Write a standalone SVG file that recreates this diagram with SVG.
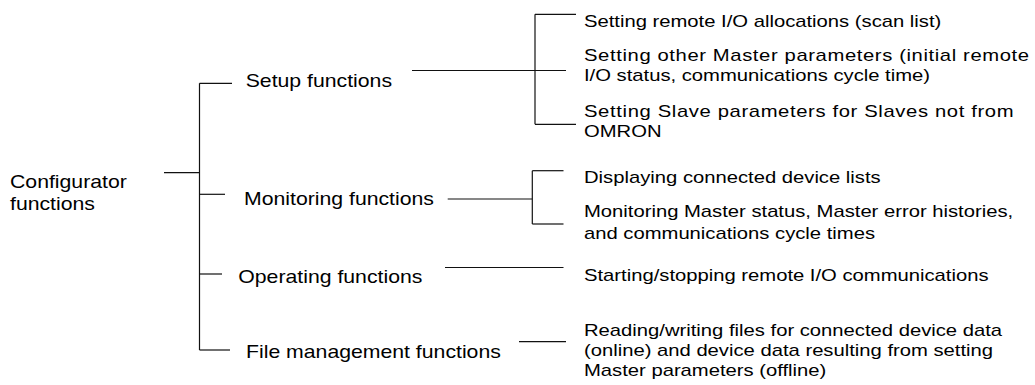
<svg xmlns="http://www.w3.org/2000/svg" width="1035" height="385" viewBox="0 0 1035 385">
<style>
text{font-family:"Liberation Sans",Arial,Helvetica,sans-serif;font-size:18px;fill:#000}
text.r{font-size:17px}
.c line{stroke:#111;stroke-width:1.2;fill:none}
</style>
<rect width="1035" height="385" fill="#fff"/>
<g class="c" id="connectors">
<line x1="164" y1="172.7" x2="199.5" y2="172.7"/>
<line x1="199.5" y1="83.3" x2="199.5" y2="350"/>
<line x1="199.5" y1="83.3" x2="232" y2="83.3"/>
<line x1="199.5" y1="194.3" x2="225" y2="194.3"/>
<line x1="199.5" y1="274" x2="222" y2="274"/>
<line x1="199.5" y1="350" x2="230" y2="350"/>
<line x1="412" y1="70.5" x2="566" y2="70.5"/>
<line x1="535" y1="14.3" x2="535" y2="124.3"/>
<line x1="535" y1="14.3" x2="576" y2="14.3"/>
<line x1="535" y1="124.3" x2="576" y2="124.3"/>
<line x1="447.7" y1="199" x2="532.3" y2="199"/>
<line x1="532.3" y1="170.7" x2="532.3" y2="224"/>
<line x1="532.3" y1="170.7" x2="563.5" y2="170.7"/>
<line x1="532.3" y1="224" x2="563.5" y2="224"/>
<line x1="445" y1="267.5" x2="563.5" y2="267.5"/>
<line x1="519" y1="341.7" x2="566" y2="341.7"/>
</g>
<g id="root"><text transform="translate(10,187.5) scale(1.18,1)"><tspan x="0">Configurator</tspan><tspan x="0" dy="23">functions</tspan></text></g>
<g id="setup"><text transform="translate(245.7,87) scale(1.18,1)">Setup functions</text></g>
<g id="monitoring"><text transform="translate(244,205) scale(1.18,1)">Monitoring functions</text></g>
<g id="operating"><text transform="translate(238.3,283) scale(1.18,1)">Operating functions</text></g>
<g id="file"><text transform="translate(246,358) scale(1.18,1)">File management functions</text></g>
<g id="setup-scan"><text class="r" transform="translate(584,27) scale(1.19,1)">Setting remote I/O allocations (scan list)</text></g>
<g id="setup-master"><text class="r" transform="translate(584,61) scale(1.19,1)"><tspan x="0" textLength="374">Setting other Master parameters (initial remote</tspan><tspan x="0" dy="20">I/O status, communications cycle time)</tspan></text></g>
<g id="setup-slave"><text class="r" transform="translate(584,117) scale(1.19,1)"><tspan x="0" textLength="361">Setting Slave parameters for Slaves not from</tspan><tspan x="0" dy="20">OMRON</tspan></text></g>
<g id="mon-list"><text class="r" transform="translate(584,183) scale(1.19,1)">Displaying connected device lists</text></g>
<g id="mon-status"><text class="r" transform="translate(584,217) scale(1.19,1)"><tspan x="0">Monitoring Master status, Master error histories,</tspan><tspan x="0" dy="22">and communications cycle times</tspan></text></g>
<g id="op-start"><text class="r" transform="translate(584,281) scale(1.19,1)">Starting/stopping remote I/O communications</text></g>
<g id="file-rw"><text class="r" transform="translate(584,336) scale(1.19,1)"><tspan x="0">Reading/writing files for connected device data</tspan><tspan x="0" dy="20">(online) and device data resulting from setting</tspan><tspan x="0" dy="20">Master parameters (offline)</tspan></text></g>
</svg>
